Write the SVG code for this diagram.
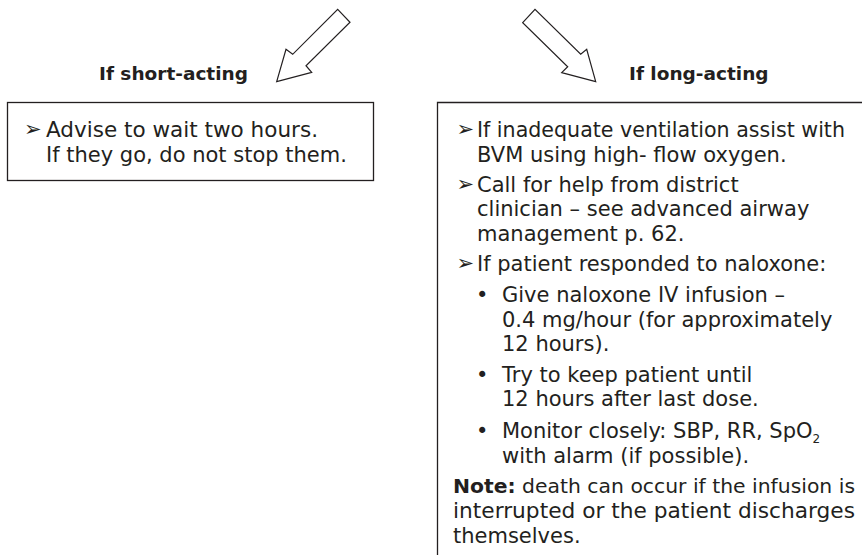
<svg xmlns="http://www.w3.org/2000/svg" width="862" height="558" viewBox="0 0 862 558">
<style>
.t{font-family:"DejaVu Sans","Liberation Sans",sans-serif;font-size:21px;fill:#231f20}
.h{font-family:"DejaVu Sans","Liberation Sans",sans-serif;font-size:18.5px;font-weight:bold;fill:#231f20}
.b{font-family:"DejaVu Sans",sans-serif;font-size:21px;fill:#231f20}
.box{fill:none;stroke:#231f20;stroke-width:1.3}
.arr{fill:#fff;stroke:#231f20;stroke-width:1.2;stroke-linejoin:miter}
</style>
<rect width="862" height="558" fill="#fff"/>
<g id="connectors">
<polygon class="arr" points="337.7,9.3 350,22.3 306,65.7 311.7,72.3 276.7,81.7 286,49.3 292.7,54.3"/>
<polygon class="arr" points="522.7,22.7 535,9.3 580.7,54.3 586.7,49.3 595.7,81.7 561.7,72.7 567.7,66.7"/>
</g>
<g id="short-label"><text class="h" x="99" y="80">If short-acting</text></g>
<g id="long-label"><text class="h" x="629" y="80">If long-acting</text></g>
<g id="short-box">
<rect class="box" x="7.5" y="102.5" width="366" height="78"/>
<text class="b" x="24" y="136">➢</text>
<text class="t" x="46" y="136.5" textLength="272" lengthAdjust="spacingAndGlyphs">Advise to wait two hours.</text>
<text class="t" x="46" y="161.5">If they go, do not stop them.</text>
</g>
<g id="long-box">
<path class="box" d="M437.5,555 V102.5 H862"/>
<text class="b" x="456.5" y="136">➢</text>
<text class="t" x="477" y="136.5" textLength="368" lengthAdjust="spacingAndGlyphs">If inadequate ventilation assist with</text>
<text class="t" x="477" y="161.5">BVM using high- flow oxygen.</text>
<text class="b" x="456.5" y="191">➢</text>
<text class="t" x="477" y="191.5">Call for help from district</text>
<text class="t" x="477" y="216">clinician – see advanced airway</text>
<text class="t" x="477" y="240.5">management p. 62.</text>
<text class="b" x="456.5" y="270">➢</text>
<text class="t" x="477" y="270.5">If patient responded to naloxone:</text>
<text class="t" x="476" y="302">•</text>
<text class="t" x="502" y="302">Give naloxone IV infusion –</text>
<text class="t" x="502" y="326.5">0.4 mg/hour (for approximately</text>
<text class="t" x="502" y="351">12 hours).</text>
<text class="t" x="476" y="381.5">•</text>
<text class="t" x="502" y="381.5">Try to keep patient until</text>
<text class="t" x="502" y="406">12 hours after last dose.</text>
<text class="t" x="476" y="437.5">•</text>
<text class="t" x="502" y="437.5">Monitor closely: SBP, RR, SpO<tspan font-size="12" dy="5">2</tspan></text>
<text class="t" x="502" y="462.5">with alarm (if possible).</text>
<text class="t" x="453" y="493" style="font-size:19.5px" textLength="402" lengthAdjust="spacingAndGlyphs"><tspan font-weight="bold">Note:</tspan> death can occur if the infusion is</text>
<text class="t" x="453" y="518" textLength="402" lengthAdjust="spacingAndGlyphs">interrupted or the patient discharges</text>
<text class="t" x="453" y="542.5">themselves.</text>
</g>
</svg>
